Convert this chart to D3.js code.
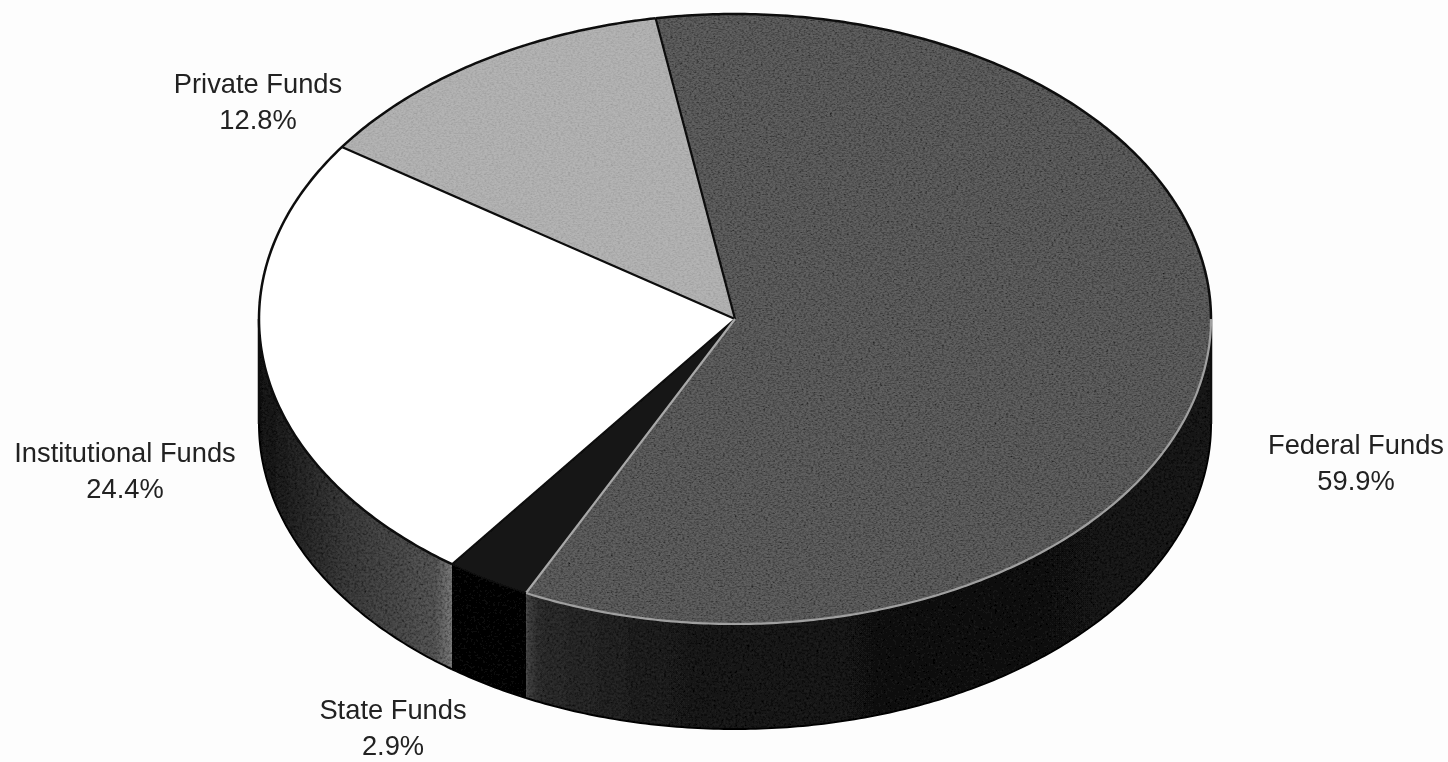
<!DOCTYPE html>
<html>
<head>
<meta charset="utf-8">
<script src="https://cdn.jsdelivr.net/npm/d3@7"></script>
<style>
  html, body { margin: 0; padding: 0; background: #fdfdfd; overflow: hidden; }
  svg { display: block; }
  text { font-family: "Liberation Sans", Arial, sans-serif; font-size: 27.3px; fill: #222; text-anchor: middle; }
</style>
</head>
<body>
<div id="chart"></div>
<script>
// values, clockwise from the top edge of Federal Funds
var categories = ["Federal Funds", "State Funds", "Institutional Funds", "Private Funds"];
var shares = [59.9, 2.9, 24.4, 12.8];
var shareLabels = ["59.9%", "2.9%", "24.4%", "12.8%"];

var width = 1448, height = 762;
var cx = 735, cy = 319, rx = 476, ry = 305, depth = 105;
var startAngle = -9.6 * Math.PI / 180;

// unit circle -> page
var xScale = d3.scaleLinear().domain([-1, 1]).range([cx - rx, cx + rx]);
var yScale = d3.scaleLinear().domain([-1, 1]).range([cy - ry, cy + ry]);

var topFill = { "Federal Funds": "#616161", "State Funds": "#161616", "Institutional Funds": "#ffffff", "Private Funds": "#b4b4b4" };
var topGrain = { "Federal Funds": "url(#grain)", "State Funds": null, "Institutional Funds": null, "Private Funds": "url(#grainLight)" };
var wallFill = { "Federal Funds": "url(#wallFederal)", "State Funds": "#080808", "Institutional Funds": "url(#wallInst)" };
var labelAt = {
  "Federal Funds": [1356, 454],
  "State Funds": [393, 719],
  "Institutional Funds": [125, 462],
  "Private Funds": [258, 93]
};

var svg = d3.select("#chart").append("svg").attr("width", width).attr("height", height);
var defs = svg.append("defs");

// scanned print look: grain over the fill
function grainFilter(id, alphaGain) {
  var f = defs.append("filter").attr("id", id)
    .attr("x", "0%").attr("y", "0%").attr("width", "100%").attr("height", "100%");
  f.append("feTurbulence").attr("type", "fractalNoise").attr("baseFrequency", 0.42)
    .attr("numOctaves", 2).attr("seed", 4).attr("result", "noise");
  f.append("feColorMatrix").attr("in", "noise").attr("type", "matrix")
    .attr("values", "0 0 0 0 0  0 0 0 0 0  0 0 0 0 0  " + alphaGain + " " + alphaGain + " 0 0 " + (-alphaGain * 0.82)).attr("result", "specks");
  f.append("feComposite").attr("in", "specks").attr("in2", "SourceAlpha").attr("operator", "in").attr("result", "cut");
  var m = f.append("feMerge");
  m.append("feMergeNode").attr("in", "SourceGraphic");
  m.append("feMergeNode").attr("in", "cut");
}
grainFilter("grain", 1.1);
grainFilter("grainLight", 0.35);

var soft = defs.append("filter").attr("id", "soft");
soft.append("feGaussianBlur").attr("stdDeviation", 0.6);

function wallGradient(id, x1, x2, stops) {
  var g = defs.append("linearGradient").attr("id", id).attr("gradientUnits", "userSpaceOnUse")
    .attr("x1", x1).attr("x2", x2).attr("y1", 0).attr("y2", 0);
  stops.forEach(function (s) {
    g.append("stop").attr("offset", s[0]).attr("stop-color", s[1]);
  });
}
wallGradient("wallFederal", xScale(-0.44), xScale(1), [[0, "#4a4a4a"], [0.02, "#303030"], [0.2, "#202020"], [0.6, "#171717"], [1, "#1c1c1c"]]);
wallGradient("wallInst", xScale(-1), xScale(-0.59), [[0, "#181818"], [0.45, "#3e3e3e"], [0.9, "#585858"], [1, "#808080"]]);

var pie = d3.pie().sort(null).startAngle(startAngle).endAngle(startAngle + 2 * Math.PI);
var slices = pie(shares).map(function (d, i) {
  d.name = categories[i];
  d.label = shareLabels[i];
  return d;
});

var ellipseX = function (a) { return xScale(Math.sin(a)); };
var ellipseY = function (a) { return yScale(-Math.cos(a)); };
var line = d3.line();

function rimPoints(a0, a1, dy) {
  var n = Math.max(2, Math.ceil((a1 - a0) * 90));
  return d3.range(n + 1).map(function (i) {
    var a = a0 + (a1 - a0) * i / n;
    return [ellipseX(a), ellipseY(a) + dy];
  });
}

var chart = svg.append("g").attr("filter", "url(#soft)");

// side walls, only the front half of the ellipse shows
var walls = chart.append("g");
slices.forEach(function (d) {
  var a0 = Math.max(d.startAngle, Math.PI / 2), a1 = Math.min(d.endAngle, 3 * Math.PI / 2);
  if (a1 <= a0) return;
  var pts = rimPoints(a0, a1, 0).concat(rimPoints(a0, a1, depth).reverse());
  walls.append("path")
    .attr("d", line(pts) + "Z")
    .attr("fill", wallFill[d.name])
    .attr("filter", "url(#grain)");
  walls.append("path")
    .attr("d", line(rimPoints(a0, a1, depth)))
    .attr("fill", "none").attr("stroke", "#050505").attr("stroke-width", 2);
});
// left and right silhouette
[-Math.PI / 2, Math.PI / 2].forEach(function (a) {
  walls.append("line")
    .attr("x1", ellipseX(a)).attr("x2", ellipseX(a))
    .attr("y1", ellipseY(a)).attr("y2", ellipseY(a) + depth)
    .attr("stroke", "#111").attr("stroke-width", 2.5);
});

// top face
var arc = d3.arc().innerRadius(0).outerRadius(rx);
var topFace = chart.append("g").attr("transform", "translate(" + cx + "," + cy + ") scale(1," + (ry / rx) + ")");
topFace.selectAll("path").data(slices).enter().append("path")
  .attr("d", arc)
  .attr("fill", function (d) { return topFill[d.name]; })
  .attr("filter", function (d) { return topGrain[d.name]; });

// outlines
var outlines = chart.append("g").attr("fill", "none");
function spoke(a, colour, w) {
  outlines.append("line")
    .attr("x1", cx).attr("y1", cy).attr("x2", ellipseX(a)).attr("y2", ellipseY(a))
    .attr("stroke", colour).attr("stroke-width", w);
}
var federal = slices[0], state = slices[1], inst = slices[2], priv = slices[3];
spoke(state.endAngle, "#0c0c0c", 2);
spoke(priv.startAngle, "#0c0c0c", 2.2);
spoke(priv.endAngle, "#0c0c0c", 2.2);
spoke(federal.endAngle, "#a8a8a8", 2.2);

// rim: black where it meets the page, pale where the slice sits on its dark wall
outlines.append("path").attr("d", line(rimPoints(federal.startAngle, Math.PI / 2, 0))).attr("stroke", "#0c0c0c").attr("stroke-width", 2.5);
outlines.append("path").attr("d", line(rimPoints(Math.PI / 2, federal.endAngle, 0))).attr("stroke", "#a0a0a0").attr("stroke-width", 2.2);
outlines.append("path").attr("d", line(rimPoints(state.startAngle, state.endAngle, 0))).attr("stroke", "#0c0c0c").attr("stroke-width", 1.5);
outlines.append("path").attr("d", line(rimPoints(inst.startAngle, priv.endAngle, 0))).attr("stroke", "#0c0c0c").attr("stroke-width", 2.5);

// labels
var labels = chart.append("g");
slices.forEach(function (d) {
  var p = labelAt[d.name];
  var t = labels.append("text").attr("x", p[0]).attr("y", p[1]);
  t.append("tspan").attr("x", p[0]).text(d.name);
  t.append("tspan").attr("x", p[0]).attr("dy", 36).text(d.label);
});
</script>
</body>
</html>
